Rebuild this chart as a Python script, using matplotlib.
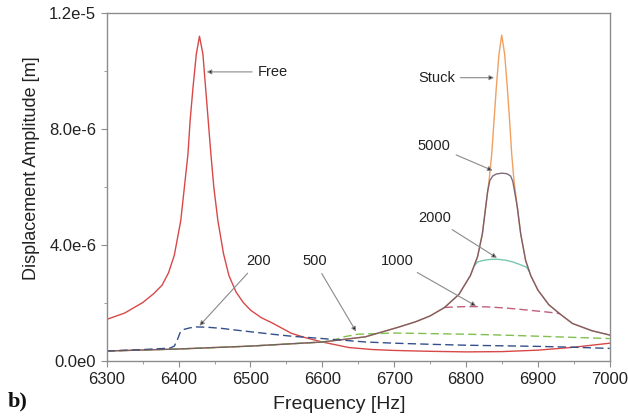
import matplotlib
matplotlib.use("Agg")
import matplotlib.pyplot as plt
from matplotlib.ticker import MultipleLocator, FixedLocator

plt.rcParams['font.family'] = ['Liberation Sans', 'DejaVu Sans']

# values (frequency in Hz, amplitude in m * 1e-6)
free_f = [6300, 6325, 6350, 6365, 6377, 6386, 6394, 6403, 6408, 6413, 6416, 6420,
          6424.6, 6429, 6433.8, 6437.5, 6441.2, 6444.9, 6449, 6454.6, 6462.5, 6470,
          6480, 6490, 6500, 6515, 6530, 6557, 6575, 6600, 6637, 6670, 6700, 6750,
          6800, 6850, 6900, 6950, 7000]
free_a = [1.44, 1.66, 2.02, 2.32, 2.62, 3.05, 3.65, 4.85, 5.99, 7.14, 8.29, 9.43,
          10.58, 11.20, 10.58, 9.43, 8.29, 7.14, 5.99, 4.85, 3.70, 2.95,
          2.38, 2.02, 1.76, 1.50, 1.32, 0.96, 0.82, 0.66, 0.47, 0.40, 0.37, 0.34,
          0.32, 0.33, 0.38, 0.48, 0.62]

stuck_f = [6300, 6400, 6500, 6600, 6660, 6707, 6730, 6750, 6770, 6790, 6806, 6816,
           6822.7, 6827.3, 6832, 6835.7, 6838.9, 6842.1, 6845.8, 6849.6, 6853.7,
           6857.4, 6860.6, 6863.5, 6866.7, 6871.3, 6876, 6882.9, 6890, 6900, 6915,
           6930, 6948, 6975, 7000]
stuck_a = [0.35, 0.42, 0.52, 0.66, 0.84, 1.18, 1.36, 1.56, 1.85, 2.30, 2.95, 3.60,
           4.39, 5.31, 6.22, 7.14, 8.29, 9.43, 10.58, 11.24, 10.58,
           9.43, 8.29, 7.14, 6.22, 5.31, 4.39, 3.47, 2.95, 2.45, 1.95,
           1.64, 1.30, 1.05, 0.90]

f200 = [6300, 6350, 6388, 6394, 6398, 6402, 6408, 6416, 6425, 6440, 6460, 6480,
        6505, 6530, 6557, 6600, 6661, 6700, 6753, 6800, 6850, 6900, 6950, 7000]
a200 = [0.35, 0.40, 0.45, 0.52, 0.72, 0.98, 1.10, 1.15, 1.18, 1.17, 1.13, 1.07,
        1.00, 0.93, 0.86, 0.78, 0.66, 0.62, 0.58, 0.55, 0.53, 0.51, 0.48, 0.44]

f500 = [6300, 6400, 6500, 6600, 6615, 6630, 6650, 6700, 6750, 6800, 6850, 6900,
        6950, 7000]
a500 = [0.35, 0.42, 0.52, 0.66, 0.72, 0.84, 0.93, 0.97, 0.95, 0.93, 0.90, 0.86,
        0.82, 0.78]

f1000 = [6770, 6785, 6800, 6815, 6830, 6850, 6870, 6890, 6910, 6925, 6930]
a1000 = [1.85, 1.87, 1.88, 1.88, 1.87, 1.84, 1.80, 1.75, 1.70, 1.66, 1.64]

f2000 = [6812, 6816, 6825, 6835, 6845, 6855, 6865, 6875, 6884, 6888]
a2000 = [3.30, 3.42, 3.48, 3.51, 3.51, 3.48, 3.42, 3.33, 3.24, 3.10]

f5000 = [6300, 6400, 6500, 6600, 6660, 6707, 6730, 6750, 6770, 6790, 6806, 6816,
         6822.7, 6827.3, 6830, 6833, 6837, 6842, 6850, 6857, 6862, 6865, 6867.5,
         6871.3, 6876, 6882.9, 6890, 6900, 6915, 6930, 6948, 6975, 7000]
a5000 = [0.35, 0.42, 0.52, 0.66, 0.84, 1.18, 1.36, 1.56, 1.85, 2.30, 2.95, 3.60,
         4.39, 5.31, 5.85, 6.22, 6.38, 6.45, 6.48, 6.46, 6.38, 6.20, 5.85,
         5.31, 4.39, 3.47, 2.95, 2.45, 1.95, 1.64, 1.30, 1.05, 0.90]

# (label, text x, text y, arrow target x, arrow target y)
notes = [
    ("Free", 6510, 9.97, 6439, 9.97),
    ("Stuck", 6733, 9.77, 6839, 9.77),
    ("5000", 6733, 7.43, 6837, 6.57),
    ("2000", 6733, 4.92, 6843, 3.56),
    ("1000", 6682, 3.44, 6814, 1.90),
    ("500", 6572, 3.44, 6647, 1.02),
    ("200", 6494, 3.44, 6429, 1.22),
]

sc = 1e-6

fig = plt.figure(figsize=(6.28, 4.19), dpi=100)
ax = fig.add_axes([0.170, 0.138, 0.801, 0.831])

ax.plot(free_f, [v * sc for v in free_a], color="#d84848", lw=1.0)
ax.plot(stuck_f, [v * sc for v in stuck_a], color="#f0a060", lw=1.0)
ax.plot(f500, [v * sc for v in a500], color="#80c050", lw=1.0, ls=(0, (6, 3)))
ax.plot(f200, [v * sc for v in a200], color="#34508c", lw=1.0, ls=(0, (6, 3)))
ax.plot(f1000, [v * sc for v in a1000], color="#c0607a", lw=1.0, ls=(0, (6, 3)))
ax.plot(f2000, [v * sc for v in a2000], color="#78c8b0", lw=1.0)
ax.plot(f5000, [v * sc for v in a5000], color="#6a5268", lw=1.0, alpha=0.85)

for label, tx, ty, px, py in notes:
    ax.annotate(label, xy=(px, py * sc), xytext=(tx, ty * sc),
                fontsize=10.5, color="#222222", ha="left", va="center",
                arrowprops=dict(arrowstyle="-|>", ec="#8a8a8a", fc="black", lw=0.8,
                                mutation_scale=7, shrinkA=2, shrinkB=0))

ax.set_xlim(6300, 7000)
ax.set_ylim(0, 1.2e-5)
ax.xaxis.set_major_locator(MultipleLocator(100))
ax.xaxis.set_minor_locator(MultipleLocator(50))
ax.yaxis.set_major_locator(FixedLocator([0, 4e-6, 8e-6, 1.2e-5]))
ax.yaxis.set_minor_locator(MultipleLocator(2e-6))
ax.set_yticklabels(["0.0e0", "4.0e-6", "8.0e-6", "1.2e-5"])

for s in ax.spines.values():
    s.set_color("#8c8c8c")
    s.set_linewidth(1.0)
ax.tick_params(which="both", direction="out", colors="#8c8c8c", labelcolor="#222222",
               labelsize=12)
ax.tick_params(which="major", length=4)
ax.tick_params(which="minor", length=2)

ax.set_xlabel("Frequency [Hz]", fontsize=14, color="#222222")
ax.xaxis.set_label_coords(0.463, -0.10)
ax.set_ylabel("Displacement Amplitude [m]", fontsize=13, color="#222222")
ax.yaxis.set_label_coords(-0.133, 0.555)

fig.text(0.012, 0.030, "b)", fontsize=16, fontweight="bold",
         family="Liberation Serif", color="#111111")

fig.savefig("out.png", dpi=100)
